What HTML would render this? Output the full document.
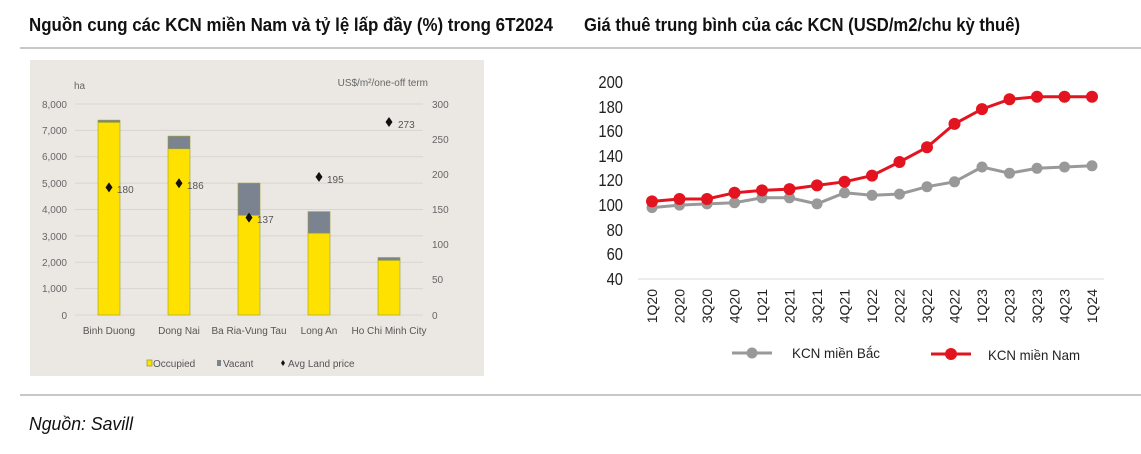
<!DOCTYPE html>
<html><head><meta charset="utf-8"><style>
body{margin:0;background:#fff;}
svg{display:block;}
text{font-family:"Liberation Sans Narrow","Liberation Sans",sans-serif;}
</style></head><body>
<svg width="1141" height="454" viewBox="0 0 1141 454" xmlns="http://www.w3.org/2000/svg">
<text x="29" y="31" font-size="18" font-weight="bold" fill="#111" textLength="524" lengthAdjust="spacingAndGlyphs">Nguồn cung các KCN miền Nam và tỷ lệ lấp đầy (%) trong 6T2024</text>
<text x="584" y="31" font-size="18" font-weight="bold" fill="#111" textLength="436" lengthAdjust="spacingAndGlyphs">Giá thuê trung bình của các KCN (USD/m2/chu kỳ thuê)</text>
<line x1="20" y1="48" x2="1141" y2="48" stroke="#c8c8c8" stroke-width="2"/>
<line x1="20" y1="395" x2="1141" y2="395" stroke="#c8c8c8" stroke-width="2"/>
<text x="29" y="430" font-size="18" font-style="italic" fill="#111" textLength="104" lengthAdjust="spacingAndGlyphs">Nguồn: Savill</text>

<!-- Left chart -->
<rect x="30" y="60" width="454" height="316" fill="#ebe8e3"/>
<g stroke="#d8d5cf" stroke-width="1">
<line x1="75" y1="104" x2="423" y2="104"/><line x1="75" y1="130.4" x2="423" y2="130.4"/>
<line x1="75" y1="156.8" x2="423" y2="156.8"/><line x1="75" y1="183.1" x2="423" y2="183.1"/>
<line x1="75" y1="209.5" x2="423" y2="209.5"/><line x1="75" y1="235.9" x2="423" y2="235.9"/>
<line x1="75" y1="262.3" x2="423" y2="262.3"/><line x1="75" y1="288.6" x2="423" y2="288.6"/>
<line x1="75" y1="315" x2="423" y2="315"/>
</g>
<g font-size="10" fill="#666" text-anchor="end">
<text x="67" y="108">8,000</text><text x="67" y="134">7,000</text><text x="67" y="160">6,000</text>
<text x="67" y="187">5,000</text><text x="67" y="213">4,000</text><text x="67" y="240">3,000</text>
<text x="67" y="266">2,000</text><text x="67" y="292">1,000</text><text x="67" y="319">0</text>
</g>
<g font-size="10" fill="#666">
<text x="432" y="108">300</text><text x="432" y="143">250</text><text x="432" y="178">200</text>
<text x="432" y="213">150</text><text x="432" y="248">100</text><text x="432" y="283">50</text><text x="432" y="319">0</text>
<text x="74" y="89">ha</text><text x="428" y="86" text-anchor="end">US$/m²/one-off term</text>
</g>
<g stroke="#9aa030" stroke-width="0.6">
<rect x="98" y="120.1" width="22" height="2.7" fill="#7b8290"/>
<rect x="98" y="122.4" width="22" height="192.6" fill="#ffe100"/>
<rect x="168" y="136.1" width="22" height="12.7" fill="#7b8290"/>
<rect x="168" y="148.8" width="22" height="166.2" fill="#ffe100"/>
<rect x="238" y="183.1" width="22" height="32.2" fill="#7b8290"/>
<rect x="238" y="215.3" width="22" height="99.7" fill="#ffe100"/>
<rect x="308" y="211.6" width="22" height="21.6" fill="#7b8290"/>
<rect x="308" y="233.2" width="22" height="81.8" fill="#ffe100"/>
<rect x="378" y="257.5" width="22" height="3" fill="#7b8290"/>
<rect x="378" y="260.4" width="22" height="54.6" fill="#ffe100"/>
</g>
<g fill="#111">
<path d="M109 182.4l3.5 5-3.5 5-3.5-5z"/><path d="M179 178.2l3.5 5-3.5 5-3.5-5z"/>
<path d="M249 212.6l3.5 5-3.5 5-3.5-5z"/><path d="M319 171.9l3.5 5-3.5 5-3.5-5z"/>
<path d="M389 117l3.5 5-3.5 5-3.5-5z"/>
</g>
<g font-size="10" fill="#555">
<text x="117" y="193">180</text><text x="187" y="189">186</text><text x="257" y="223">137</text>
<text x="327" y="183">195</text><text x="398" y="128">273</text>
</g>
<g font-size="10" fill="#555" text-anchor="middle">
<text x="109" y="334">Binh Duong</text><text x="179" y="334">Dong Nai</text><text x="249" y="334">Ba Ria-Vung Tau</text>
<text x="319" y="334">Long An</text><text x="389" y="334">Ho Chi Minh City</text>
</g>
<rect x="147" y="360" width="5" height="6" fill="#ffe100" stroke="#9aa030" stroke-width="0.8"/>
<text x="153" y="367" font-size="10" fill="#555">Occupied</text>
<rect x="217" y="360" width="4" height="6" fill="#7b8290"/>
<text x="223" y="367" font-size="10" fill="#555">Vacant</text>
<path d="M283 360l2 3-2 3-2-3z" fill="#111"/>
<text x="288" y="367" font-size="10" fill="#555">Avg Land price</text>

<!-- Right chart -->
<line x1="638" y1="279" x2="1104" y2="279" stroke="#d9d9d9" stroke-width="1"/>
<g font-size="18" fill="#222" text-anchor="end" transform="translate(623,0) scale(0.82,1)">
<text x="0" y="88">200</text><text x="0" y="113">180</text><text x="0" y="137">160</text>
<text x="0" y="162">140</text><text x="0" y="186">120</text><text x="0" y="211">100</text>
<text x="0" y="236">80</text><text x="0" y="260">60</text><text x="0" y="285">40</text>
</g>
<g font-size="14" fill="#222" text-anchor="end">
<text transform="translate(657,289) rotate(-90)">1Q20</text>
<text transform="translate(684.5,289) rotate(-90)">2Q20</text>
<text transform="translate(712,289) rotate(-90)">3Q20</text>
<text transform="translate(739.5,289) rotate(-90)">4Q20</text>
<text transform="translate(767,289) rotate(-90)">1Q21</text>
<text transform="translate(794.5,289) rotate(-90)">2Q21</text>
<text transform="translate(822,289) rotate(-90)">3Q21</text>
<text transform="translate(849.5,289) rotate(-90)">4Q21</text>
<text transform="translate(877,289) rotate(-90)">1Q22</text>
<text transform="translate(904.5,289) rotate(-90)">2Q22</text>
<text transform="translate(932,289) rotate(-90)">3Q22</text>
<text transform="translate(959.5,289) rotate(-90)">4Q22</text>
<text transform="translate(987,289) rotate(-90)">1Q23</text>
<text transform="translate(1014.5,289) rotate(-90)">2Q23</text>
<text transform="translate(1042,289) rotate(-90)">3Q23</text>
<text transform="translate(1069.5,289) rotate(-90)">4Q23</text>
<text transform="translate(1097,289) rotate(-90)">1Q24</text>
</g>
<polyline fill="none" stroke="#999" stroke-width="3" points="652,207.6 679.5,205.1 707,203.9 734.5,202.7 762,197.8 789.5,197.8 817,203.9 844.5,192.8 872,195.3 899.5,194.1 927,186.7 954.5,181.8 982,167 1009.5,173.2 1037,168.3 1064.5,167 1092,165.8"/>
<g fill="#999">
<circle cx="652" cy="207.6" r="5.5"/><circle cx="679.5" cy="205.1" r="5.5"/><circle cx="707" cy="203.9" r="5.5"/><circle cx="734.5" cy="202.7" r="5.5"/><circle cx="762" cy="197.8" r="5.5"/><circle cx="789.5" cy="197.8" r="5.5"/><circle cx="817" cy="203.9" r="5.5"/><circle cx="844.5" cy="192.8" r="5.5"/><circle cx="872" cy="195.3" r="5.5"/><circle cx="899.5" cy="194.1" r="5.5"/><circle cx="927" cy="186.7" r="5.5"/><circle cx="954.5" cy="181.8" r="5.5"/><circle cx="982" cy="167" r="5.5"/><circle cx="1009.5" cy="173.2" r="5.5"/><circle cx="1037" cy="168.3" r="5.5"/><circle cx="1064.5" cy="167" r="5.5"/><circle cx="1092" cy="165.8" r="5.5"/>
</g>
<polyline fill="none" stroke="#e3141f" stroke-width="3" points="652,201.4 679.5,199 707,199 734.5,192.8 762,190.4 789.5,189.1 817,185.4 844.5,181.8 872,175.6 899.5,162 927,147.3 954.5,123.9 982,109.1 1009.5,99.3 1037,96.8 1064.5,96.8 1092,96.8"/>
<g fill="#e3141f">
<circle cx="652" cy="201.4" r="6"/><circle cx="679.5" cy="199" r="6"/><circle cx="707" cy="199" r="6"/><circle cx="734.5" cy="192.8" r="6"/><circle cx="762" cy="190.4" r="6"/><circle cx="789.5" cy="189.1" r="6"/><circle cx="817" cy="185.4" r="6"/><circle cx="844.5" cy="181.8" r="6"/><circle cx="872" cy="175.6" r="6"/><circle cx="899.5" cy="162" r="6"/><circle cx="927" cy="147.3" r="6"/><circle cx="954.5" cy="123.9" r="6"/><circle cx="982" cy="109.1" r="6"/><circle cx="1009.5" cy="99.3" r="6"/><circle cx="1037" cy="96.8" r="6"/><circle cx="1064.5" cy="96.8" r="6"/><circle cx="1092" cy="96.8" r="6"/>
</g>
<line x1="732" y1="353" x2="772" y2="353" stroke="#999" stroke-width="3"/>
<circle cx="752" cy="353" r="5.5" fill="#999"/>
<text x="792" y="358" font-size="14" fill="#222" textLength="88" lengthAdjust="spacingAndGlyphs">KCN miền Bắc</text>
<line x1="931" y1="354" x2="971" y2="354" stroke="#e3141f" stroke-width="3"/>
<circle cx="951" cy="354" r="6" fill="#e3141f"/>
<text x="988" y="360" font-size="14" fill="#222" textLength="92" lengthAdjust="spacingAndGlyphs">KCN miền Nam</text>
</svg>
</body></html>
